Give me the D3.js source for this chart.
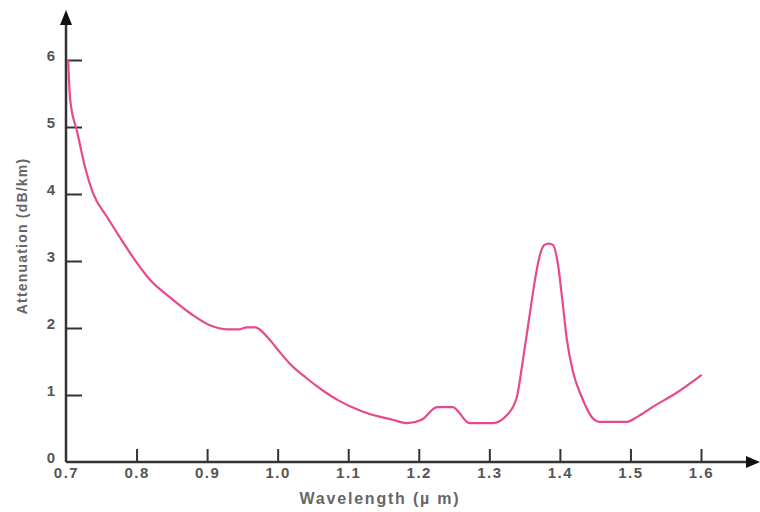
<!DOCTYPE html>
<html>
<head>
<meta charset="utf-8">
<script src="https://cdn.jsdelivr.net/npm/d3@7"></script>
<style>
  body { margin: 0; background: #fff; }
  svg { display: block; font-family: "Liberation Sans", Arial, sans-serif; }
</style>
</head>
<body>
<svg id="chart" width="760" height="512"></svg>
<script>
window.addEventListener('DOMContentLoaded', function() {

  // wavelength (um) and attenuation (dB/km)
  const wavelength = [0.703, 0.706, 0.716, 0.727, 0.738, 0.758, 0.776, 0.798, 0.819, 0.847,
    0.876, 0.904, 0.928, 0.946, 0.956, 0.968, 0.989, 1.003, 1.017, 1.041, 1.065, 1.086,
    1.121, 1.163, 1.184, 1.204, 1.226, 1.248, 1.272, 1.305, 1.325, 1.339, 1.347, 1.354,
    1.360, 1.366, 1.372, 1.378, 1.384, 1.390, 1.397, 1.403, 1.410, 1.418, 1.431, 1.446,
    1.456, 1.495, 1.509, 1.531, 1.565, 1.601];
  const attenuation = [6.0, 5.4, 4.92, 4.40, 4.02, 3.66, 3.36, 3.01, 2.72, 2.46,
    2.22, 2.04, 1.98, 1.98, 2.01, 2.01, 1.82, 1.64, 1.47, 1.25, 1.06, 0.92,
    0.75, 0.63, 0.58, 0.63, 0.82, 0.82, 0.58, 0.58, 0.70, 0.97, 1.48, 1.97,
    2.40, 2.80, 3.10, 3.24, 3.26, 3.24, 2.97, 2.46, 1.82, 1.37, 0.97, 0.66,
    0.60, 0.60, 0.67, 0.82, 1.03, 1.30];

  const xTicks = [0.7, 0.8, 0.9, 1.0, 1.1, 1.2, 1.3, 1.4, 1.5, 1.6];
  const xTickLabels = ['0.7', '0.8', '0.9', '1.0', '1.1', '1.2', '1.3', '1.4', '1.5', '1.6'];
  const yTicks = [0, 1, 2, 3, 4, 5, 6];

  const dataset = wavelength.map((w, i) => ({ w: w, a: attenuation[i] }));

  const svg = d3.select('svg');

  const xScale = d3.scaleLinear().domain([0.7, 1.6]).range([66, 701]);
  const yScale = d3.scaleLinear().domain([0, 6]).range([462, 60]);

  const axisColor = '#333';
  const textColor = '#555';

  // x axis, ticks pointing up into the plot
  const xAxis = d3.axisBottom(xScale)
    .tickValues(xTicks)
    .tickFormat((d, i) => xTickLabels[i])
    .tickSizeInner(-13)
    .tickSizeOuter(0)
    .tickPadding(6);

  const gx = svg.append('g')
    .attr('id', 'x-axis')
    .attr('transform', 'translate(0,' + yScale(0) + ')')
    .call(xAxis);
  gx.select('.domain').remove();
  gx.selectAll('.tick line').attr('stroke', axisColor).attr('stroke-width', 2);
  gx.selectAll('.tick text')
    .attr('dy', '0.75em')
    .attr('y', 5)
    .style('font-size', '15px')
    .style('font-weight', 'bold')
    .style('letter-spacing', '1.5px')
    .attr('fill', textColor);
  gx.selectAll('.tick').filter(d => d === 0.7).select('line').remove();

  // y axis, ticks pointing right into the plot
  const yAxis = d3.axisLeft(yScale)
    .tickValues(yTicks)
    .tickFormat(d3.format('d'))
    .tickSizeInner(-16)
    .tickSizeOuter(0)
    .tickPadding(11);

  const gy = svg.append('g')
    .attr('id', 'y-axis')
    .attr('transform', 'translate(' + xScale(0.7) + ',0)')
    .call(yAxis);
  gy.select('.domain').remove();
  gy.selectAll('.tick line').attr('stroke', axisColor).attr('stroke-width', 2);
  gy.selectAll('.tick text')
    .attr('dy', '0.05em')
    .style('font-size', '15px')
    .style('font-weight', 'bold')
    .attr('fill', textColor);
  gy.selectAll('.tick').filter(d => d === 0).select('line').remove();

  // axis lines with arrow heads
  const x0 = xScale(0.7), y0 = yScale(0);
  svg.append('line')
    .attr('x1', x0).attr('y1', y0).attr('x2', 752).attr('y2', y0)
    .attr('stroke', axisColor).attr('stroke-width', 2.5);
  svg.append('line')
    .attr('x1', x0).attr('y1', y0).attr('x2', x0).attr('y2', 18)
    .attr('stroke', axisColor).attr('stroke-width', 2.5);
  svg.append('path')
    .attr('d', 'M760,' + y0 + ' L746,' + (y0 - 6) + ' L746,' + (y0 + 6) + ' Z')
    .attr('fill', '#111');
  svg.append('path')
    .attr('d', 'M' + x0 + ',10 L' + (x0 - 6) + ',25 L' + (x0 + 6) + ',25 Z')
    .attr('fill', '#111');

  // curve
  const line = d3.line()
    .x(d => xScale(d.w))
    .y(d => yScale(d.a))
    .curve(d3.curveMonotoneX);

  svg.append('path')
    .datum(dataset)
    .attr('d', line)
    .attr('fill', 'none')
    .attr('stroke', '#e8488c')
    .attr('stroke-width', 2.2)
    .attr('stroke-linejoin', 'round');

  // axis titles
  svg.append('text')
    .attr('x', 380)
    .attr('y', 504)
    .attr('text-anchor', 'middle')
    .style('font-size', '16px')
    .style('font-weight', 'bold')
    .style('letter-spacing', '1.8px')
    .attr('fill', '#666')
    .text('Wavelength (\u00b5 m)');

  svg.append('text')
    .attr('transform', 'translate(27,236) rotate(-90)')
    .attr('text-anchor', 'middle')
    .style('font-size', '14px')
    .style('font-weight', 'bold')
    .style('letter-spacing', '1.2px')
    .attr('fill', '#666')
    .text('Attenuation (dB/km)');

});
</script>
</body>
</html>
